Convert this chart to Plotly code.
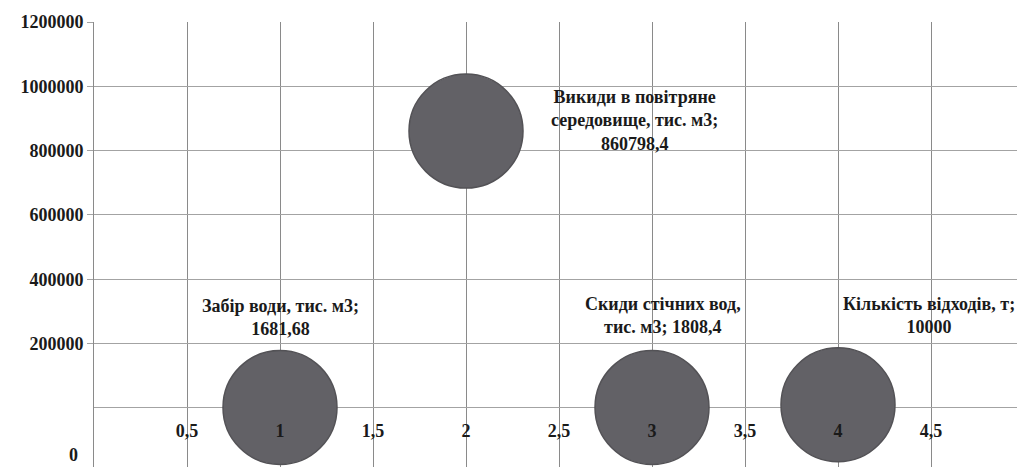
import plotly.graph_objects as go

# Data
x_vals = [1, 2, 3, 4]
y_vals = [1681.68, 860798.4, 1808.4, 10000]
names = [
    "Забір води, тис. м3",
    "Викиди в повітряне<br>середовище, тис. м3",
    "Скиди стічних вод,<br>тис. м3",
    "Кількість відходів, т",
]
label_seps = ["<br>", "<br>", " ", "<br>"]
y_ticks = [200000, 400000, 600000, 800000, 1000000, 1200000]
x_ticks = [0.5, 1, 1.5, 2, 2.5, 3, 3.5, 4, 4.5]


def fmt(v):
    return str(v).replace(".", ",")


font = dict(family="Times New Roman, Liberation Serif, DejaVu Serif, serif",
            size=18, color="#1a1a1a", weight="bold")

fig = go.Figure()
fig.add_trace(go.Scatter(
    x=x_vals,
    y=y_vals,
    mode="markers",
    marker=dict(
        size=114,
        color="#626166",
        line=dict(color="#535256", width=1.5),
        opacity=1,
    ),
    cliponaxis=False,
    hoverinfo="skip",
    showlegend=False,
))

# data labels
shifts = [(0, 90), (168, 11), (11, 92), (91, 89)]
for x, y, n, sep, (dx, dy) in zip(x_vals, y_vals, names, label_seps, shifts):
    fig.add_annotation(
        x=x, y=y, xref="x", yref="y",
        text=f"{n};{sep}{fmt(y)}",
        showarrow=False, xshift=dx, yshift=dy,
        font=font, align="center",
    )

# the "0" y label sitting at the bottom edge
fig.add_annotation(
    x=0, y=0, xref="paper", yref="paper", text="0",
    showarrow=False, xanchor="right", yanchor="bottom",
    xshift=-14, yshift=0, font=font,
)

fig.update_xaxes(
    range=[0, 5],
    tickvals=x_ticks,
    ticktext=[fmt(t) for t in x_ticks],
    tickfont=font,
    showgrid=True, gridcolor="#8a8a8a", gridwidth=1,
    zeroline=False, showline=False,
    anchor="free", position=(467 - 408) / 445,
    ticks="outside", ticklen=6, tickcolor="rgba(0,0,0,0)",
    automargin=False,
)
fig.update_yaxes(
    range=[-183500, 1200000],
    tickvals=y_ticks,
    ticktext=[str(t) for t in y_ticks],
    tickfont=font,
    showgrid=True, gridcolor="#a3a3a3", gridwidth=1,
    zeroline=True, zerolinecolor="#a3a3a3", zerolinewidth=1,
    showline=True, linecolor="#8a8a8a",
    ticks="outside", ticklen=6, tickcolor="#a3a3a3",
    automargin=False,
)

# page body has an 8px margin, so the figure is trimmed to fit the window
fig.update_layout(
    width=1017, height=459,
    margin=dict(l=86, r=1, t=14, b=0),
    paper_bgcolor="white", plot_bgcolor="white",
    font=font,
)

fig.write_html("out.html")
